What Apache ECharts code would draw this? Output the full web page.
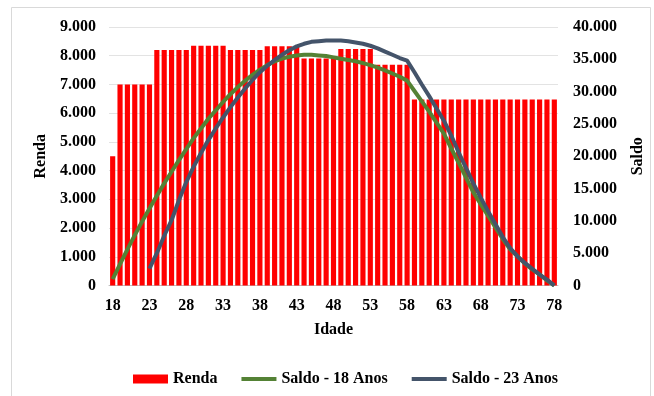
<!DOCTYPE html>
<html>
<head>
<meta charset="utf-8">
<script src="https://cdn.jsdelivr.net/npm/echarts@6/dist/echarts.min.js"></script>
<style>
html,body{margin:0;padding:0;background:#fff;}
#chart{width:654px;height:396px;}
</style>
</head>
<body>
<div id="chart"></div>
<script>
const ages = ['18','19','20','21','22','23','24','25','26','27','28','29','30','31','32','33','34','35','36','37','38','39','40','41','42','43','44','45','46','47','48','49','50','51','52','53','54','55','56','57','58','59','60','61','62','63','64','65','66','67','68','69','70','71','72','73','74','75','76','77','78'];

const renda = [4500,
  7000,7000,7000,7000,7000,
  8200,8200,8200,8200,8200,
  8350,8350,8350,8350,8350,
  8200,8200,8200,8200,8200,
  8330,8330,8330,8330,8330,
  7900,7900,7900,7900,7900,
  8230,8230,8230,8230,8230,
  7690,7690,7690,7690,7690,
  6480,6480,6480,6480,6480,6480,6480,6480,6480,6480,
  6480,6480,6480,6480,6480,6480,6480,6480,6480,6480];

const saldo18 = [1000,3300,5600,7800,9900,11900,13900,15800,17600,19400,
  21100,22800,24300,25800,27100,28400,29600,30700,31700,32600,
  33400,34100,34700,35100,35400,35600,35700,35700,35600,35500,
  35300,35100,34900,34700,34400,34100,33700,33300,32800,32300,
  31700,30100,28500,26900,25200,23500,21200,19000,16700,14400,
  12600,10800,9000,7200,5600,4500,3400,2500,1700,800,0];

const saldo23 = [null,null,null,null,null,2600,5000,7700,10100,13200,
  16000,18400,20500,22500,24300,26000,27600,29100,30500,31800,
  33000,34000,34900,35700,36400,37000,37400,37700,37800,37900,
  37900,37900,37800,37600,37400,37100,36700,36200,35700,35200,
  34800,33000,31100,29300,27400,25500,23200,20600,18200,15800,
  13600,11500,9500,7500,5800,4500,3500,2600,1700,900,0];

const leftTicks = {min:0, max:9000, interval:1000};
const rightTicks = {min:0, max:40000, interval:5000};

function fmt(v){ return String(v).replace(/\B(?=(\d{3})+(?!\d))/g,'.'); }

const FONT = '"Liberation Serif","Times New Roman",serif';
const txt = {fontFamily:FONT, fontWeight:'bold', fontSize:16, color:'#000'};
const lineIcon = 'path://M0,0L36,0L36,4L0,4Z';

const chart = echarts.init(document.getElementById('chart'), null, {renderer:'canvas'});
chart.setOption({
  animation:false,
  backgroundColor:'#fff',
  graphic:[{type:'rect', shape:{x:11.5,y:7.5,width:639,height:400}, style:{fill:'none',stroke:'#D9D9D9',lineWidth:1}, silent:true}],
  grid:{left:109, right:94, top:27, bottom:110.5},
  legend:{
    left:128, top:366,
    itemWidth:35, itemHeight:9, itemGap:24,
    textStyle:Object.assign({}, txt, {fontSize:16}),
    data:[{name:'Renda', icon:'rect'}, {name:'Saldo - 18 Anos', icon:lineIcon}, {name:'Saldo - 23 Anos', icon:lineIcon}]
  },
  xAxis:{
    type:'category', data:ages,
    name:'Idade', nameLocation:'middle', nameGap:36, nameTextStyle:txt,
    axisLine:{lineStyle:{color:'#BFBFBF',width:1}},
    axisTick:{show:false},
    axisLabel:Object.assign({interval:4, margin:12}, txt)
  },
  yAxis:[{
    type:'value', min:leftTicks.min, max:leftTicks.max, interval:leftTicks.interval,
    name:'Renda', nameLocation:'middle', nameGap:55, nameRotate:90, nameTextStyle:txt,
    axisLine:{show:false}, axisTick:{show:false},
    axisLabel:Object.assign({margin:13, formatter:fmt}, txt),
    splitLine:{lineStyle:{color:'#E3E3E3',width:1}}
  },{
    type:'value', min:rightTicks.min, max:rightTicks.max, interval:rightTicks.interval,
    name:'Saldo', nameLocation:'middle', nameGap:72, nameRotate:90, nameTextStyle:txt,
    axisLine:{show:false}, axisTick:{show:false},
    axisLabel:Object.assign({margin:15, formatter:fmt}, txt),
    splitLine:{show:false}
  }],
  series:[{
    name:'Renda', type:'bar', data:renda, yAxisIndex:0,
    barCategoryGap:'30%', itemStyle:{color:'#FF0000'}
  },{
    name:'Saldo - 18 Anos', type:'line', data:saldo18, yAxisIndex:1,
    symbol:'none', lineStyle:{color:'#548235', width:4}, itemStyle:{color:'#548235'}
  },{
    name:'Saldo - 23 Anos', type:'line', data:saldo23, yAxisIndex:1,
    symbol:'none', lineStyle:{color:'#44546A', width:4}, itemStyle:{color:'#44546A'}
  }]
});
</script>
</body>
</html>
